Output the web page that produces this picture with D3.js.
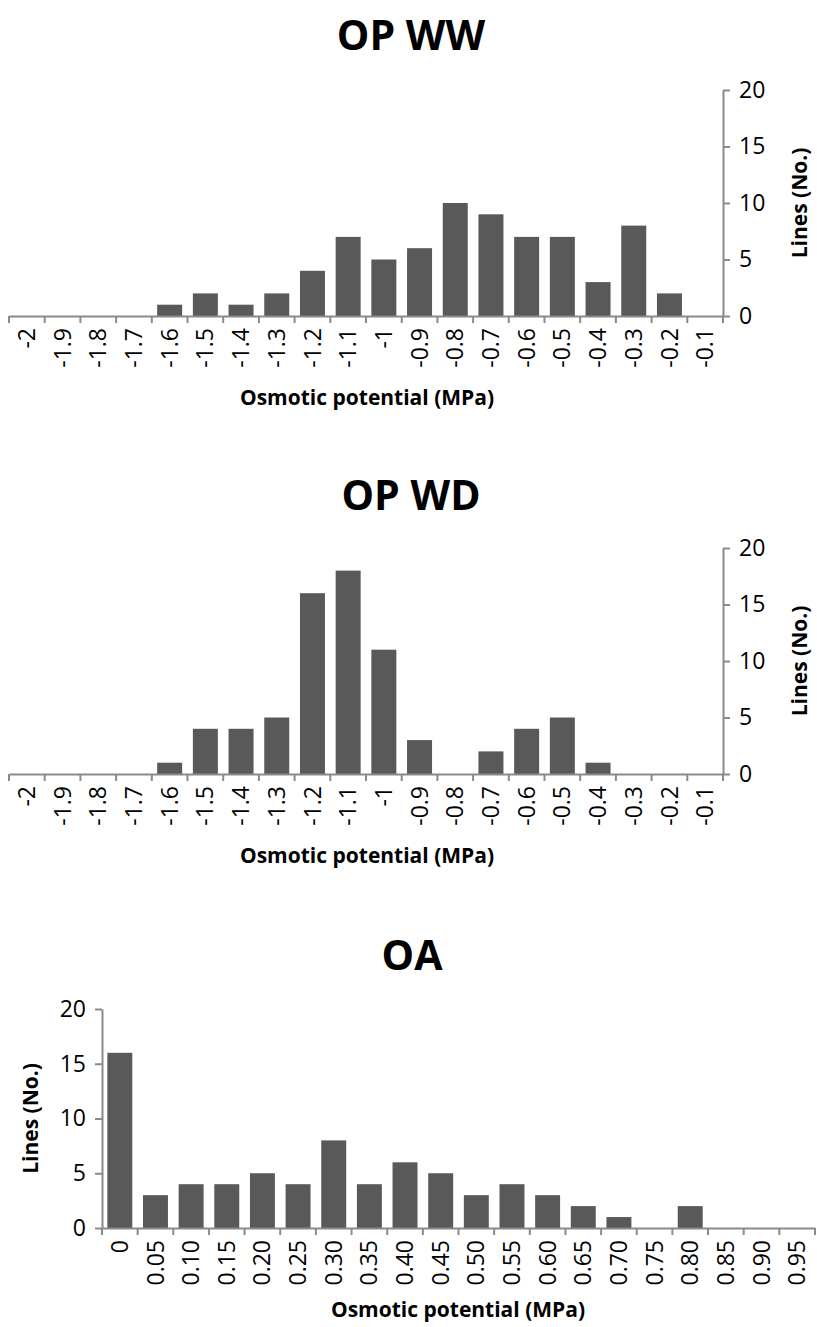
<!DOCTYPE html>
<html>
<head>
<meta charset="utf-8">
<script src="https://cdnjs.cloudflare.com/ajax/libs/d3/7.8.5/d3.min.js"></script>
<style>
  body { margin: 0; background: #fff; }
  svg text { font-family: "Open Sans", "Noto Sans", sans-serif; fill: #000; }
</style>
</head>
<body>
<svg id="chart"></svg>
<script>
// categories (tick labels)
var opLabels = ["-2", "-1.9", "-1.8", "-1.7", "-1.6", "-1.5", "-1.4", "-1.3", "-1.2", "-1.1",
	"-1", "-0.9", "-0.8", "-0.7", "-0.6", "-0.5", "-0.4", "-0.3", "-0.2", "-0.1"];
var oaLabels = ["0", "0.05", "0.10", "0.15", "0.20", "0.25", "0.30", "0.35", "0.40", "0.45",
	"0.50", "0.55", "0.60", "0.65", "0.70", "0.75", "0.80", "0.85", "0.90", "0.95"];

// counts of lines per class
var opWW = [0, 0, 0, 0, 1, 2, 1, 2, 4, 7, 5, 6, 10, 9, 7, 7, 3, 8, 2, 0];
var opWD = [0, 0, 0, 0, 1, 4, 4, 5, 16, 18, 11, 3, 0, 2, 4, 5, 1, 0, 0, 0];
var oa = [16, 3, 4, 4, 5, 4, 8, 4, 6, 5, 3, 4, 3, 2, 1, 0, 2, 0, 0, 0];

var yTicks = [0, 5, 10, 15, 20];

var width = 817;
var height = 1327;
var barColor = "#595959";
var axisColor = "#8a8a8a";

var svg = d3.select("#chart")
	.attr("width", width)
	.attr("height", height);

var charts = [
	{ title: "OP WW", labels: opLabels, values: opWW, x0: 9, x1: 723, yBase: 316, yTop: 90, titleY: 50, titleX: 411, side: "right", xTitleX: 367, xTitleY: 405, yTitleX: 807 },
	{ title: "OP WD", labels: opLabels, values: opWD, x0: 9, x1: 723, yBase: 774, yTop: 548, titleY: 510, titleX: 411, side: "right", xTitleX: 367, xTitleY: 863, yTitleX: 807 },
	{ title: "OA", labels: oaLabels, values: oa, x0: 102, x1: 815, yBase: 1228, yTop: 1009, titleY: 970, titleX: 412, side: "left", xTitleX: 458, xTitleY: 1317, yTitleX: 38 }
];

charts.forEach(function(c) {
	var g = svg.append("g");

	var x = d3.scaleBand()
		.domain(c.labels)
		.range([c.x0, c.x1])
		.paddingInner(0.3)
		.paddingOuter(0.15);

	var y = d3.scaleLinear()
		.domain([0, 20])
		.range([c.yBase, c.yTop]);

	// Bars
	g.append("g")
		.selectAll("rect")
		.data(c.values)
		.enter()
		.append("rect")
			.attr("x", function(d, i) { return x(c.labels[i]); })
			.attr("y", function(d) { return y(d); })
			.attr("width", x.bandwidth())
			.attr("height", function(d) { return y(0) - y(d); })
			.attr("fill", barColor);

	// Y axis
	var yAxis = (c.side === "right" ? d3.axisRight(y) : d3.axisLeft(y))
		.tickValues(yTicks)
		.tickSize(7)
		.tickSizeOuter(0)
		.tickPadding(9);

	var yg = g.append("g")
		.attr("transform", "translate(" + (c.side === "right" ? c.x1 : c.x0) + ",0)")
		.call(yAxis);
	yg.selectAll("path, line").attr("stroke", axisColor).attr("stroke-width", 2);
	yg.selectAll("text").style("font-size", "23px").attr("fill", "#000");

	// X axis (labels at band centres, ticks at band boundaries)
	var xAxis = d3.axisBottom(x)
		.tickSize(0)
		.tickSizeOuter(0);

	var xg = g.append("g")
		.attr("transform", "translate(0," + c.yBase + ")")
		.call(xAxis);
	xg.select(".domain").attr("stroke", axisColor).attr("stroke-width", 2);
	xg.selectAll("text")
		.style("font-size", "23px")
		.attr("fill", "#000")
		.attr("text-anchor", "end")
		.attr("dy", "0.35em")
		.attr("transform", "translate(0,12) rotate(-90)")
		.attr("y", 0)
		.attr("x", 0);

	var step = x.step();
	var bounds = d3.range(c.labels.length + 1).map(function(i) {
		return c.x0 + i * step;
	});
	xg.selectAll(".bound")
		.data(bounds)
		.enter()
		.append("line")
			.attr("class", "bound")
			.attr("x1", function(d) { return d; })
			.attr("x2", function(d) { return d; })
			.attr("y1", 0)
			.attr("y2", 7)
			.attr("stroke", axisColor)
			.attr("stroke-width", 2);

	// Titles
	g.append("text")
		.attr("x", c.titleX)
		.attr("y", c.titleY)
		.attr("text-anchor", "middle")
		.style("font-size", "41px")
		.style("font-weight", "bold")
		.text(c.title);

	g.append("text")
		.attr("x", c.xTitleX)
		.attr("y", c.xTitleY)
		.attr("text-anchor", "middle")
		.style("font-size", "21px")
		.style("font-weight", "bold")
		.text("Osmotic potential (MPa)");

	g.append("text")
		.attr("transform", "translate(" + c.yTitleX + "," + ((c.yBase + c.yTop) / 2) + ") rotate(-90)")
		.attr("text-anchor", "middle")
		.style("font-size", "21px")
		.style("font-weight", "bold")
		.text("Lines (No.)");
});
</script>
</body>
</html>
